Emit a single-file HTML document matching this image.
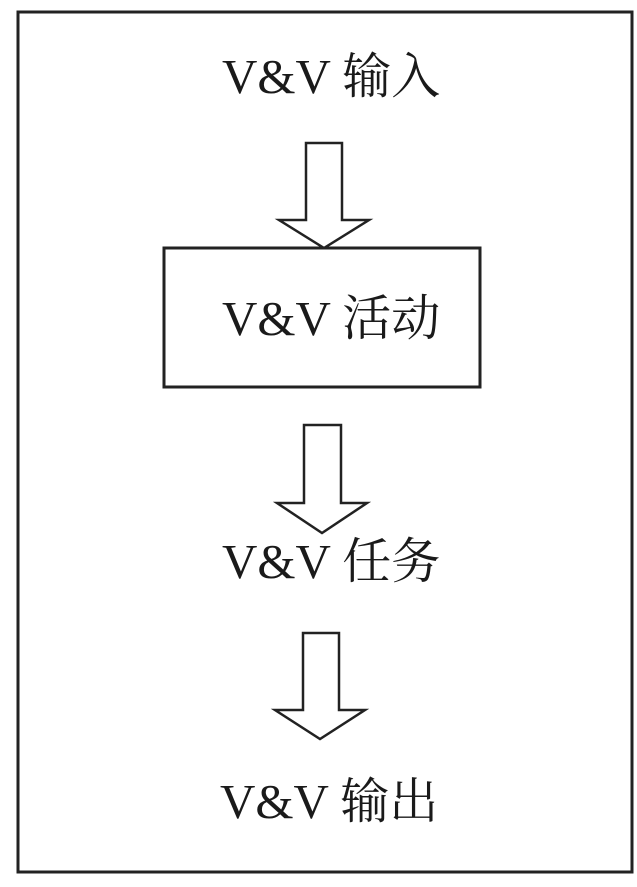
<!DOCTYPE html>
<html><head><meta charset="utf-8"><style>
html,body{margin:0;padding:0;background:#fff;}
svg{display:block;}
text{font-family:"Liberation Serif","Noto Serif CJK SC",serif;font-size:49px;fill:#1a1a1a;}
</style></head><body>
<svg width="637" height="887" viewBox="0 0 637 887" xmlns="http://www.w3.org/2000/svg">
<rect x="18" y="12" width="614" height="860" fill="none" stroke="#222" stroke-width="3"/>
<text x="222" y="93">V&amp;V 输入</text>
<polygon points="306,143 342,143 342,220 369,220 324,248 279,220 306,220" fill="#fff" stroke="#222" stroke-width="2.5" stroke-linejoin="miter"/>
<rect x="164" y="248" width="316" height="139" fill="none" stroke="#222" stroke-width="3"/>
<text x="222" y="335">V&amp;V 活动</text>
<polygon points="304,425 341,425 341,503 367,503 322,533 277,503 304,503" fill="#fff" stroke="#222" stroke-width="2.5"/>
<text x="222" y="578">V&amp;V 任务</text>
<polygon points="303,633 339,633 339,710 365,710 320,739 275,710 303,710" fill="#fff" stroke="#222" stroke-width="2.5"/>
<text x="220" y="818">V&amp;V 输出</text>
</svg>
</body></html>
